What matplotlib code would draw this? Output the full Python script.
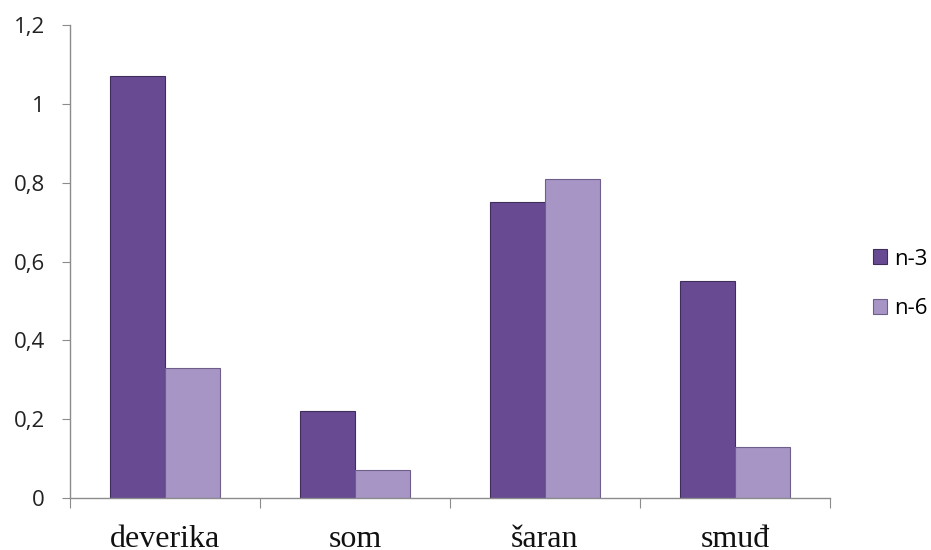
import matplotlib

matplotlib.use("Agg")

import matplotlib.pyplot as plt
import numpy as np
from matplotlib.ticker import FixedLocator, FuncFormatter

# data
categories = ["deverika", "som", "šaran", "smuđ"]
n3 = [1.07, 0.22, 0.75, 0.55]
n6 = [0.33, 0.07, 0.81, 0.13]
series_labels = ["n-3", "n-6"]
y_ticks = [0, 0.2, 0.4, 0.6, 0.8, 1.0, 1.2]

# styles
c_n3 = "#684a93"
c_n6 = "#a796c5"
bar_w = 0.287

fig = plt.figure(figsize=(9.31, 5.5), dpi=100)
ax = fig.add_axes([0.0752, 0.0945, 0.8163, 0.86])

x = np.arange(len(categories))
ax.bar(x - bar_w / 2, n3, bar_w, color=c_n3, edgecolor="#3f2d5c", linewidth=0.8,
       label=series_labels[0])
ax.bar(x + bar_w / 2, n6, bar_w, color=c_n6, edgecolor="#6e5f8a", linewidth=0.8,
       label=series_labels[1])

ax.set_xlim(-0.5, len(categories) - 0.5)
ax.set_ylim(0, 1.2)

# axes look
for s in ["top", "right"]:
    ax.spines[s].set_visible(False)
for s in ["left", "bottom"]:
    ax.spines[s].set_color("#8c8c8c")
    ax.spines[s].set_linewidth(1.0)

ax.set_yticks(y_ticks)
ax.yaxis.set_major_formatter(FuncFormatter(lambda v, p: f"{v:g}".replace(".", ",")))
ax.tick_params(axis="y", length=6, color="#8c8c8c", labelsize=16, pad=12,
               labelcolor="#222222")
for lbl in ax.get_yticklabels():
    lbl.set_family("Open Sans")

# category boundary ticks, labels centered
ax.xaxis.set_major_locator(FixedLocator(np.arange(len(categories) + 1) - 0.5))
ax.xaxis.set_major_formatter(FuncFormatter(lambda v, p: ""))
ax.xaxis.set_minor_locator(FixedLocator(x))
ax.set_xticklabels(categories, minor=True, family="Liberation Serif", fontsize=23)
ax.tick_params(axis="x", which="major", length=7, color="#8c8c8c")
ax.tick_params(axis="x", which="minor", length=0, pad=19.5, labelcolor="#111111")

leg = fig.legend(loc="center left", bbox_to_anchor=(873 / 931, 1 - 284 / 550),
                 frameon=False, prop={"family": "Open Sans", "size": 16},
                 handlelength=0.63, handleheight=0.63, handletextpad=0.32,
                 labelspacing=1.3, borderaxespad=0, borderpad=0)

fig.savefig("out.png", dpi=100)
